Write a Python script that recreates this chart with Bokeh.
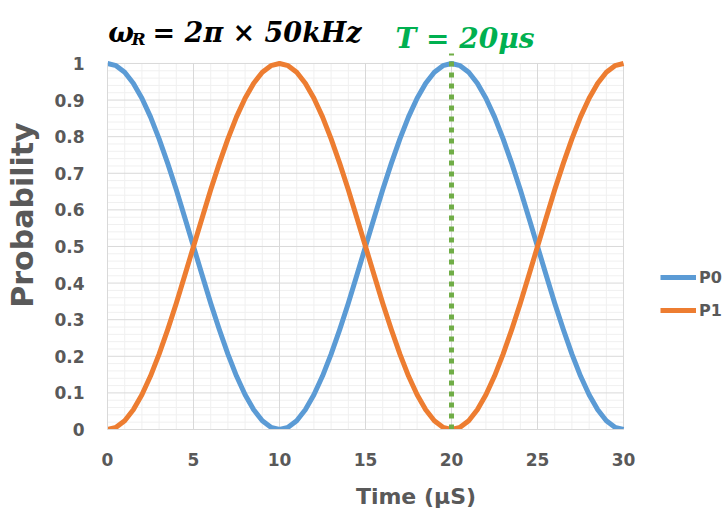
from bokeh.plotting import figure
from bokeh.models import Range1d, FixedTicker, Label, Legend, LegendItem, ColumnDataSource
from bokeh.embed import file_html
from bokeh.resources import INLINE

# ---------------- data ----------------
time_us = [0, 0.5, 1, 1.5, 2, 2.5, 3, 3.5, 4, 4.5, 5, 5.5, 6, 6.5, 7, 7.5, 8, 8.5, 9, 9.5,
           10, 10.5, 11, 11.5, 12, 12.5, 13, 13.5, 14, 14.5, 15, 15.5, 16, 16.5, 17, 17.5,
           18, 18.5, 19, 19.5, 20, 20.5, 21, 21.5, 22, 22.5, 23, 23.5, 24, 24.5, 25, 25.5,
           26, 26.5, 27, 27.5, 28, 28.5, 29, 29.5, 30]
p0 = [1.0, 0.994, 0.976, 0.946, 0.905, 0.854, 0.794, 0.727, 0.655, 0.578, 0.5,
      0.422, 0.345, 0.273, 0.206, 0.146, 0.095, 0.054, 0.024, 0.006, 0.0,
      0.006, 0.024, 0.054, 0.095, 0.146, 0.206, 0.273, 0.345, 0.422, 0.5,
      0.578, 0.655, 0.727, 0.794, 0.854, 0.905, 0.946, 0.976, 0.994, 1.0,
      0.994, 0.976, 0.946, 0.905, 0.854, 0.794, 0.727, 0.655, 0.578, 0.5,
      0.422, 0.345, 0.273, 0.206, 0.146, 0.095, 0.054, 0.024, 0.006, 0.0]
p1 = [0.0, 0.006, 0.024, 0.054, 0.095, 0.146, 0.206, 0.273, 0.345, 0.422, 0.5,
      0.578, 0.655, 0.727, 0.794, 0.854, 0.905, 0.946, 0.976, 0.994, 1.0,
      0.994, 0.976, 0.946, 0.905, 0.854, 0.794, 0.727, 0.655, 0.578, 0.5,
      0.422, 0.345, 0.273, 0.206, 0.146, 0.095, 0.054, 0.024, 0.006, 0.0,
      0.006, 0.024, 0.054, 0.095, 0.146, 0.206, 0.273, 0.345, 0.422, 0.5,
      0.578, 0.655, 0.727, 0.794, 0.854, 0.905, 0.946, 0.976, 0.994, 1.0]
series_names = ["P0", "P1"]

x_ticks = [0, 5, 10, 15, 20, 25, 30]
x_minor = [1, 2, 3, 4, 6, 7, 8, 9, 11, 12, 13, 14, 16, 17, 18, 19,
           21, 22, 23, 24, 26, 27, 28, 29]
y_ticks = [0, 0.1, 0.2, 0.3, 0.4, 0.5, 0.6, 0.7, 0.8, 0.9, 1.0]
y_labels = ["0", "0.1", "0.2", "0.3", "0.4", "0.5", "0.6", "0.7", "0.8", "0.9", "1"]
t_mark = 20

title_main = "= 2\u03c0 \u00d7 50kHz"
title_omega = "\u03c9"
title_sub = "R"
mark_text = "T = 20\u03bcs"
x_title = "Time (\u03bcS)"
y_title = "Probability"

# ---------------- styling ----------------
BLUE = "#5b9bd5"
ORANGE = "#ed7d31"
GREEN_LINE = "#70ad47"
GREEN_TEXT = "#00b050"
TXT = "#595959"
GRID_MAJOR = "#d9d9d9"
GRID_MINOR = "#f0f0f0"
AX_FONT = "DejaVu Sans"

y_minor = [round(a + k * 0.02, 2) for a in y_ticks[:-1] for k in (1, 2, 3, 4)]
x0, x1 = x_ticks[0], x_ticks[-1]
y0, y1 = y_ticks[0], y_ticks[-1]

# frame covers everything right of / above the axes so that texts are not clipped
p = figure(width=724, height=514, output_backend="svg", toolbar_location=None,
           x_range=Range1d(0, 35.87), y_range=Range1d(0, 1.172),
           min_border_left=107, min_border_right=0, min_border_top=0, min_border_bottom=85)
p.outline_line_color = None
p.background_fill_color = "white"
p.border_fill_color = "white"
p.xgrid.grid_line_color = None
p.ygrid.grid_line_color = None

# grid lines drawn only inside the chart area
p.segment(x0=[x0] * len(y_minor), y0=y_minor, x1=[x1] * len(y_minor), y1=y_minor,
          line_color=GRID_MINOR, line_width=1, level="underlay")
p.segment(x0=x_minor, y0=[y0] * len(x_minor), x1=x_minor, y1=[y1] * len(x_minor),
          line_color=GRID_MINOR, line_width=1, level="underlay")
p.segment(x0=[x0] * (len(y_ticks) - 1), y0=y_ticks[1:], x1=[x1] * (len(y_ticks) - 1), y1=y_ticks[1:],
          line_color=GRID_MAJOR, line_width=1, level="underlay")
p.segment(x0=x_ticks[1:], y0=[y0] * (len(x_ticks) - 1), x1=x_ticks[1:], y1=[y1] * (len(x_ticks) - 1),
          line_color=GRID_MAJOR, line_width=1, level="underlay")

# axes
p.xaxis.ticker = FixedTicker(ticks=x_ticks, minor_ticks=[])
p.yaxis.ticker = FixedTicker(ticks=y_ticks, minor_ticks=[])
p.yaxis.major_label_overrides = {t: s for t, s in zip(y_ticks, y_labels)}
for ax in (p.xaxis, p.yaxis):
    ax.axis_line_color = GRID_MAJOR
    ax.axis_line_width = 1
    ax.major_tick_line_color = None
    ax.minor_tick_line_color = None
    ax.major_tick_out = 0
    ax.major_tick_in = 0
    ax.minor_tick_out = 0
    ax.major_label_text_font = AX_FONT
    ax.major_label_text_font_style = "bold"
    ax.major_label_text_font_size = "17px"
    ax.major_label_text_color = TXT
    ax.axis_label_text_font = AX_FONT
    ax.axis_label_text_font_style = "bold"
    ax.axis_label_text_color = TXT
p.xaxis.bounds = (x0, x1)
p.yaxis.bounds = (y0, y1)
p.xaxis.major_label_standoff = 23
p.yaxis.major_label_standoff = 23
p.xaxis.axis_label = x_title
p.yaxis.axis_label = y_title
p.xaxis.axis_label_text_font_size = "22px"
p.yaxis.axis_label_text_font_size = "30px"
p.xaxis.axis_label_standoff = 15
p.yaxis.axis_label_standoff = 11

# series
src = ColumnDataSource(dict(t=time_us, p0=p0, p1=p1))
r0 = p.line("t", "p0", source=src, line_color=BLUE, line_width=5, line_join="round")
r1 = p.line("t", "p1", source=src, line_color=ORANGE, line_width=5, line_join="round")

# marker line at T
p.segment(x0=[t_mark], y0=[y0], x1=[t_mark], y1=[1.027],
          line_color=GREEN_LINE, line_width=5, line_dash="5 6")

# legend
legend = Legend(items=[LegendItem(label=series_names[0], renderers=[r0]),
                       LegendItem(label=series_names[1], renderers=[r1])],
                location=(553, 109), orientation="vertical",
                border_line_color=None, background_fill_alpha=0,
                padding=0, margin=0, spacing=13,
                glyph_width=36, glyph_height=20, label_height=20, label_standoff=3,
                label_text_font=AX_FONT, label_text_font_style="bold",
                label_text_font_size="16px", label_text_color=TXT)
p.add_layout(legend)

# title texts
p.add_layout(Label(x=0.05, y=1.0847, text=title_omega, text_font="DejaVu Serif",
                   text_font_style="bold italic", text_font_size="27px", text_color="black",
                   text_baseline="alphabetic"))
p.add_layout(Label(x=1.40, y=1.066, text=title_sub, text_font="DejaVu Serif",
                   text_font_style="bold italic", text_font_size="17px", text_color="black",
                   text_baseline="alphabetic"))
p.add_layout(Label(x=2.62, y=1.0847, text=title_main, text_font="DejaVu Serif",
                   text_font_style="bold italic", text_font_size="27px", text_color="black",
                   text_baseline="alphabetic"))
p.add_layout(Label(x=16.74, y=1.068, text=mark_text, text_font="DejaVu Serif",
                   text_font_style="bold italic", text_font_size="28px", text_color=GREEN_TEXT,
                   text_baseline="alphabetic"))

open("out.html", "w").write(file_html(p, INLINE))
